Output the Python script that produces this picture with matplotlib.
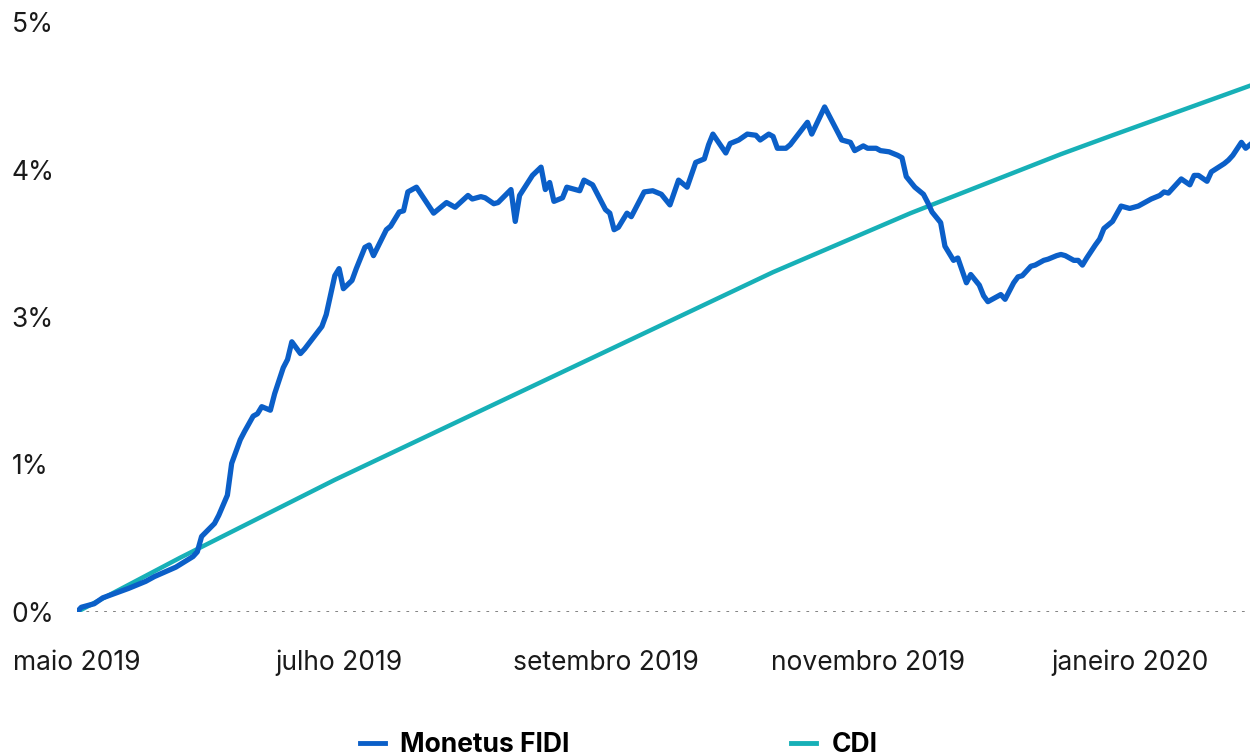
import pandas as pd
import matplotlib
matplotlib.use("Agg")
import matplotlib.pyplot as plt
from matplotlib.lines import Line2D

plt.rcParams['font.family'] = ['Inter', 'DejaVu Sans']

# Monetus FIDI, accumulated return (%)
fidi_dates = [
    "2019-05-01", "2019-05-02", "2019-05-05", "2019-05-07", "2019-05-13", "2019-05-17",
    "2019-05-19", "2019-05-24", "2019-05-28", "2019-05-29", "2019-05-30", "2019-06-02",
    "2019-06-03", "2019-06-05", "2019-06-06", "2019-06-08", "2019-06-09", "2019-06-11",
    "2019-06-12", "2019-06-13", "2019-06-15", "2019-06-16", "2019-06-18", "2019-06-19",
    "2019-06-20", "2019-06-22", "2019-06-23", "2019-06-27", "2019-06-28", "2019-06-30",
    "2019-07-01", "2019-07-02", "2019-07-04", "2019-07-05", "2019-07-07", "2019-07-08",
    "2019-07-09", "2019-07-12", "2019-07-13", "2019-07-15", "2019-07-16", "2019-07-17",
    "2019-07-19", "2019-07-23", "2019-07-26", "2019-07-28", "2019-07-31", "2019-08-01",
    "2019-08-03", "2019-08-04", "2019-08-06", "2019-08-07", "2019-08-10", "2019-08-11",
    "2019-08-12", "2019-08-15", "2019-08-17", "2019-08-18", "2019-08-19", "2019-08-20",
    "2019-08-22", "2019-08-23", "2019-08-26", "2019-08-27", "2019-08-29", "2019-09-01",
    "2019-09-02", "2019-09-03", "2019-09-04", "2019-09-06", "2019-09-07", "2019-09-10",
    "2019-09-12", "2019-09-14", "2019-09-16", "2019-09-18", "2019-09-20", "2019-09-22",
    "2019-09-24", "2019-09-25", "2019-09-26", "2019-09-29", "2019-09-30", "2019-10-02",
    "2019-10-04", "2019-10-06", "2019-10-07", "2019-10-09", "2019-10-10", "2019-10-11",
    "2019-10-13", "2019-10-14", "2019-10-18", "2019-10-19", "2019-10-22", "2019-10-24",
    "2019-10-26", "2019-10-28", "2019-10-29", "2019-10-31", "2019-11-01", "2019-11-03",
    "2019-11-04", "2019-11-06", "2019-11-08", "2019-11-09", "2019-11-10", "2019-11-12",
    "2019-11-14", "2019-11-15", "2019-11-16", "2019-11-18", "2019-11-19", "2019-11-21",
    "2019-11-22", "2019-11-24", "2019-11-25", "2019-11-27", "2019-11-28", "2019-11-29",
    "2019-12-02", "2019-12-03", "2019-12-05", "2019-12-06", "2019-12-07", "2019-12-09",
    "2019-12-10", "2019-12-12", "2019-12-13", "2019-12-15", "2019-12-16", "2019-12-17",
    "2019-12-19", "2019-12-20", "2019-12-21", "2019-12-22", "2019-12-24", "2019-12-25",
    "2019-12-26", "2019-12-28", "2019-12-30", "2020-01-01", "2020-01-03", "2020-01-06",
    "2020-01-08", "2020-01-09", "2020-01-10", "2020-01-12", "2020-01-13", "2020-01-15",
    "2020-01-16", "2020-01-17", "2020-01-19", "2020-01-20", "2020-01-23", "2020-01-24",
    "2020-01-25", "2020-01-27", "2020-01-28", "2020-01-29",
]
fidi_values = [
    0.00, 0.04, 0.07, 0.12, 0.20, 0.26,
    0.30, 0.38, 0.47, 0.51, 0.64, 0.75,
    0.82, 0.99, 1.26, 1.46, 1.53, 1.66,
    1.68, 1.74, 1.71, 1.85, 2.07, 2.14,
    2.29, 2.19, 2.23, 2.42, 2.52, 2.85,
    2.91, 2.74, 2.81, 2.91, 3.09, 3.11,
    3.02, 3.24, 3.27, 3.39, 3.40, 3.56,
    3.60, 3.38, 3.47, 3.43, 3.53, 3.50,
    3.52, 3.51, 3.46, 3.47, 3.58, 3.31,
    3.53, 3.70, 3.77, 3.58, 3.64, 3.48,
    3.51, 3.60, 3.57, 3.66, 3.62, 3.41,
    3.38, 3.24, 3.26, 3.38, 3.35, 3.56,
    3.57, 3.54, 3.45, 3.66, 3.60, 3.81,
    3.84, 3.96, 4.05, 3.89, 3.97, 4.00,
    4.05, 4.04, 4.00, 4.05, 4.03, 3.93,
    3.93, 3.96, 4.15, 4.05, 4.28, 4.14,
    4.00, 3.98, 3.91, 3.95, 3.93, 3.93,
    3.91, 3.90, 3.87, 3.85, 3.69, 3.60,
    3.54, 3.47, 3.39, 3.30, 3.10, 2.98,
    3.00, 2.79, 2.86, 2.77, 2.68, 2.63,
    2.69, 2.65, 2.79, 2.84, 2.85, 2.93,
    2.94, 2.98, 2.99, 3.02, 3.03, 3.02,
    2.98, 2.98, 2.94, 3.00, 3.11, 3.16,
    3.25, 3.31, 3.44, 3.42, 3.44, 3.50,
    3.53, 3.56, 3.55, 3.63, 3.67, 3.62,
    3.70, 3.70, 3.65, 3.73, 3.80, 3.83,
    3.87, 3.98, 3.93, 3.96,
]

# CDI, accumulated (%)
cdi_dates = [
    "2019-05-01", "2019-05-25", "2019-06-30", "2019-10-10", "2019-11-11",
    "2019-12-16", "2019-12-28", "2020-01-29",
]
cdi_values = [0.00, 0.46, 1.12, 2.88, 3.38, 3.88, 4.04, 4.46]

xtick_dates = ["2019-05-01", "2019-07-01", "2019-09-01", "2019-11-01", "2020-01-01"]
xtick_labels = ["maio 2019", "julho 2019", "setembro 2019", "novembro 2019", "janeiro 2020"]
ytick_values = [0, 1.25, 2.5, 3.75, 5]
ytick_labels = ["0%", "1%", "3%", "4%", "5%"]

blue = "#0b5fc8"
teal = "#17b0b7"

fig = plt.figure(figsize=(12.5, 7.56), dpi=100)
ax = fig.add_axes([77 / 1250, 1 - 612 / 756, 1 - 77 / 1250, 590 / 756])

fd = pd.to_datetime(fidi_dates)
cd = pd.to_datetime(cdi_dates)

ax.axhline(0, color="#777777", lw=2, linestyle=(0, (1, 2.2)), zorder=1)
ax.plot(cd, cdi_values, color=teal, lw=3.2, solid_joinstyle="round", zorder=2)
ax.plot(fd, fidi_values, color=blue, lw=3.8, solid_joinstyle="round", zorder=3)

ax.set_xlim(fd[0], fd[-1])
ax.set_ylim(0, 5)
ax.set_xticks(pd.to_datetime(xtick_dates))
ax.set_xticklabels(xtick_labels)
ax.set_yticks(ytick_values)
ax.set_yticklabels(ytick_labels)
for lab in ax.get_yticklabels():
    lab.set_horizontalalignment("left")
ax.tick_params(axis="x", length=0, pad=27, labelsize=19, labelcolor="#1a1a1a")
ax.tick_params(axis="y", length=0, pad=47, labelsize=19, labelcolor="#1a1a1a")
for s in ax.spines.values():
    s.set_visible(False)
ax.patch.set_alpha(0)

handles = [Line2D([], [], color=blue, lw=3.5), Line2D([], [], color=teal, lw=3.5)]
leg = fig.legend(handles, ["Monetus FIDI", "CDI"], loc="center",
                 bbox_to_anchor=(0.495, 0.014), ncol=2, frameon=False,
                 handlelength=0.95, handletextpad=0.57, columnspacing=8.4,
                 prop={"size": 19, "weight": "bold"})

fig.savefig("out.png", dpi=100)
